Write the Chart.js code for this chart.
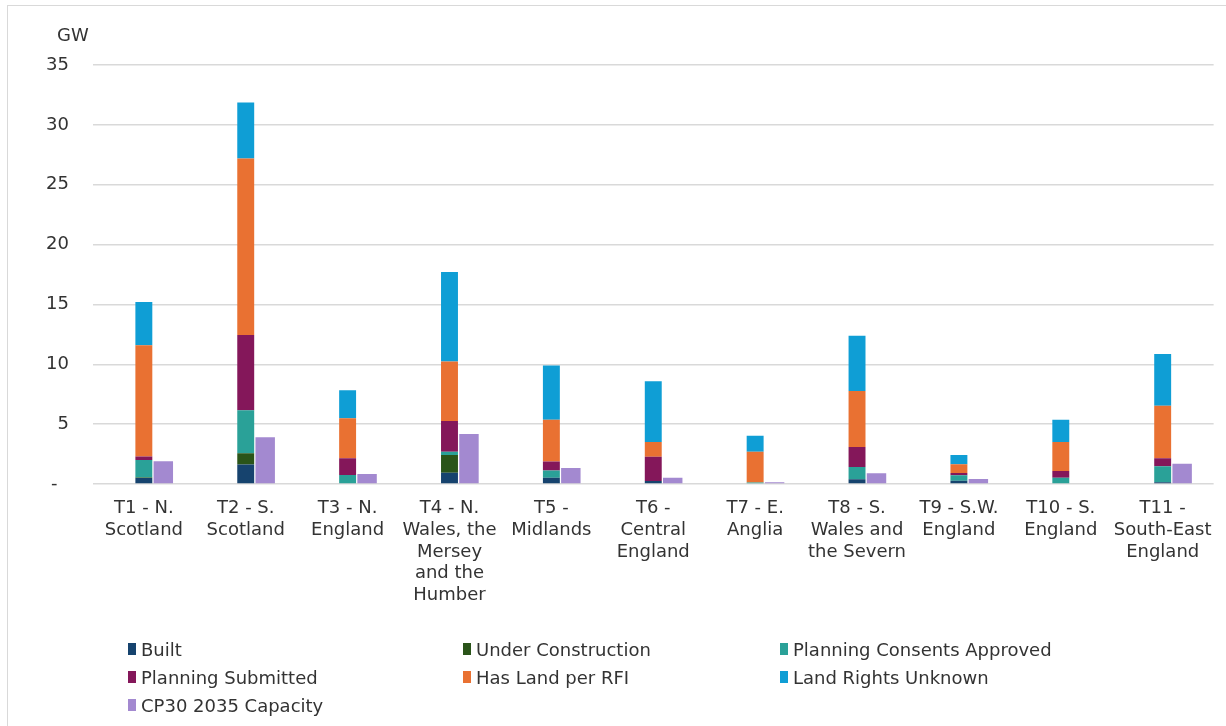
<!DOCTYPE html>
<html>
<head>
<meta charset="utf-8">
<script src="https://cdn.jsdelivr.net/npm/chart.js@4.4.1/dist/chart.umd.min.js"></script>
<style>
  html, body { margin: 0; padding: 0; background: #fff; }
  body { width: 1226px; height: 726px; position: relative; overflow: hidden; font-family: "DejaVu Sans", Verdana, sans-serif; }
  #frame { position: absolute; left: 7px; top: 5px; width: 1240px; height: 740px; border-left: 1.5px solid #d9d9d9; border-top: 1.5px solid #d9d9d9; }
  #wrap { position: absolute; left: 0; top: 0; width: 1226px; height: 726px; }
  #unit { position: absolute; left: 57px; top: 24px; font-size: 18px; color: #333; }
  #legend { position: absolute; left: 128px; top: 635px; display: grid; grid-template-columns: 335px 317px auto; grid-auto-rows: 28px; font-size: 18px; color: #333; }
  .item { display: flex; align-items: center; white-space: nowrap; }
  .swatch { width: 8px; height: 12px; margin-right: 5px; }
</style>
</head>
<body>
<div id="frame"></div>
<div id="wrap"><canvas id="chart" width="1226" height="726"></canvas></div>
<div id="unit">GW</div>
<div id="legend"></div>
<script>
// ---- DATA ----
const categories = [
  ["T1 - N.", "Scotland"],
  ["T2 - S.", "Scotland"],
  ["T3 - N.", "England"],
  ["T4 - N.", "Wales, the", "Mersey", "and the", "Humber"],
  ["T5 -", "Midlands"],
  ["T6 -", "Central", "England"],
  ["T7 - E.", "Anglia"],
  ["T8 - S.", "Wales and", "the Severn"],
  ["T9 - S.W.", "England"],
  ["T10 - S.", "England"],
  ["T11 -", "South-East", "England"]
];

const built             = [0.5, 1.62, 0, 0.95, 0.53, 0.25, 0, 0.39, 0.28, 0, 0.15];
const underConstruction = [0.05, 0.95, 0, 1.48, 0, 0, 0, 0, 0, 0, 0];
const consentsApproved  = [1.45, 3.6, 0.75, 0.27, 0.59, 0, 0.12, 1.03, 0.45, 0.53, 1.33];
const planningSubmitted = [0.3, 6.27, 1.4, 2.57, 0.75, 2.03, 0, 1.68, 0.19, 0.56, 0.67];
const hasLand           = [9.3, 14.76, 3.35, 4.97, 3.49, 1.23, 2.58, 4.66, 0.73, 2.42, 4.38];
const landUnknown       = [3.6, 4.66, 2.34, 7.46, 4.54, 5.08, 1.32, 4.62, 0.78, 1.85, 4.32];
const cp30Capacity      = [1.9, 3.9, 0.84, 4.18, 1.34, 0.53, 0.15, 0.9, 0.42, 0, 1.7];

// empty slot so the pipeline bar sits on the category centre and CP30 to its right
const spacer = [0, 0, 0, 0, 0, 0, 0, 0, 0, 0, 0];

const yTicks = [0, 5, 10, 15, 20, 25, 30, 35];

// ---- CHART ----
const pipeline = (label, data, color) => ({
  label, data, backgroundColor: color, stack: "pipeline",
  borderWidth: 0, barPercentage: 0.87, categoryPercentage: 0.573
});

const datasets = [
  { label: "_spacer", data: spacer, backgroundColor: "transparent", stack: "pad", barPercentage: 0.87, categoryPercentage: 0.573 },
  pipeline("Built", built, "#16436e"),
  pipeline("Under Construction", underConstruction, "#2a5419"),
  pipeline("Planning Consents Approved", consentsApproved, "#2aa198"),
  pipeline("Planning Submitted", planningSubmitted, "#84175a"),
  pipeline("Has Land per RFI", hasLand, "#e97132"),
  pipeline("Land Rights Unknown", landUnknown, "#0f9ed5"),
  {
    label: "CP30 2035 Capacity", data: cp30Capacity, backgroundColor: "#a389d0", stack: "cp30",
    borderWidth: 0, barPercentage: 1.0, categoryPercentage: 0.573
  }
];

const chart = new Chart(document.getElementById("chart").getContext("2d"), {
  type: "bar",
  data: { labels: categories, datasets },
  options: {
    responsive: false,
    animation: false,
    layout: { padding: { left: 22, right: 11, top: 65, bottom: 106 } },
    plugins: { legend: { display: false }, tooltip: { enabled: false } },
    scales: {
      x: {
        stacked: true,
        grid: { display: false, drawTicks: false },
        border: { display: false },
        ticks: { autoSkip: false, maxRotation: 0, padding: 14, color: "#333",
                 font: { family: "DejaVu Sans", size: 18, lineHeight: 1.2 } }
      },
      y: {
        stacked: true, min: 0, max: 35,
        afterBuildTicks: axis => { axis.ticks = yTicks.map(v => ({ value: v })); },
        grid: { color: "#d9d9d9", lineWidth: 1.5, drawTicks: false },
        border: { display: false },
        ticks: { padding: 24, color: "#333", font: { family: "DejaVu Sans", size: 18 },
                 callback: v => v === 0 ? "-  " : v }
      }
    }
  }
});

// ---- LEGEND (html, built from the chart datasets) ----
const legendEl = document.getElementById("legend");
chart.data.datasets.filter(d => !d.label.startsWith("_")).forEach(d => {
  const item = document.createElement("div");
  item.className = "item";
  item.innerHTML = `<span class="swatch" style="background:${d.backgroundColor}"></span>${d.label}`;
  legendEl.appendChild(item);
});
</script>
</body>
</html>
